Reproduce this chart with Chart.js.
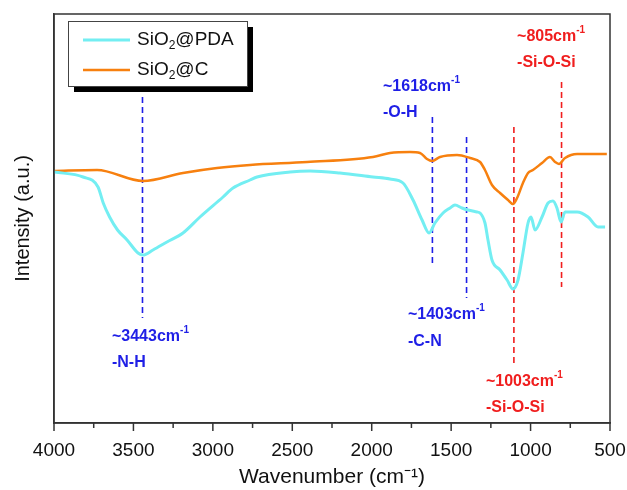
<!DOCTYPE html>
<html>
<head>
<meta charset="utf-8">
<script src="https://cdn.jsdelivr.net/npm/chart.js@4.4.0/dist/chart.umd.min.js"></script>
<style>
  body { margin: 0; background: #fff; }
  #wrap { width: 627px; height: 490px; }
</style>
</head>
<body>
<div id="wrap"><canvas id="myChart" width="627" height="490"></canvas></div>
<script>
// spectra (arbitrary intensity units)
const pdaWn = [4000, 3817, 3723, 3690, 3650, 3600, 3540, 3471, 3440, 3377, 3289, 3188, 3081, 2936, 2873, 2766, 2722, 2514, 2388, 2200, 1992, 1885, 1803, 1740, 1683, 1639, 1602, 1551, 1507, 1476, 1432, 1394, 1337, 1318, 1287, 1268, 1243, 1192, 1148, 1111, 1079, 1048, 1016, 997, 972, 928, 890, 859, 834, 808, 783, 707, 638, 575, 531];
const pdaVal = [251, 246, 236, 220, 206, 193, 183, 170, 168, 173, 181, 190, 206, 226, 235, 243, 246, 251, 252, 250, 246, 244, 240, 223, 203, 190, 200, 210, 215, 218, 215, 213, 211, 210, 200, 183, 163, 153, 143, 134, 143, 170, 200, 206, 193, 206, 220, 222, 215, 201, 211, 211, 206, 196, 196];
const cWn = [4000, 3729, 3440, 3188, 2974, 2766, 2407, 1992, 1885, 1759, 1696, 1652, 1620, 1570, 1463, 1381, 1318, 1287, 1243, 1192, 1142, 1111, 1085, 1048, 1016, 985, 928, 878, 846, 821, 783, 707, 626, 544, 520];
const cVal = [252, 253, 242, 250, 255, 258, 261, 266, 270, 271, 270, 264, 262, 266, 268, 265, 261, 253, 238, 230, 223, 219, 225, 240, 250, 253, 260, 266, 261, 259, 265, 269, 269, 269, 269];

// dashed marker lines
const peakWn = [3443, 1618, 1403, 1105, 805];
const peakTop = [326, 306, 286, 296, 341];
const peakBottom = [105, 158, 125, 60, 136];
const peakColor = ['#1f1fe6', '#1f1fe6', '#1f1fe6', '#f01e1e', '#f01e1e'];

// peak annotations
const noteWn = [3635, 1929, 1772, 1281, 1085];
const noteY1 = [86, 336, 108, 41, 386];
const noteY2 = [60, 310, 81, 15, 360];
const noteValue = ['~3443cm', '~1618cm', '~1403cm', '~1003cm', '~805cm'];
const noteGroup = ['-N-H', '-O-H', '-C-N', '-Si-O-Si', '-Si-O-Si'];

const xTicks = [4000, 3500, 3000, 2500, 2000, 1500, 1000, 500];

const FONT = '"Liberation Sans", Arial, sans-serif';

function toPoints(xs, ys) {
  return xs.map((x, i) => ({ x: x, y: ys[i] }));
}

const datasets = [
  {
    label: 'SiO2@PDA',
    data: toPoints(pdaWn, pdaVal),
    borderColor: '#73eef2',
    borderWidth: 3,
    pointRadius: 0,
    cubicInterpolationMode: 'monotone'
  },
  {
    label: 'SiO2@C',
    data: toPoints(cWn, cVal),
    borderColor: '#f7800f',
    borderWidth: 2.5,
    pointRadius: 0,
    cubicInterpolationMode: 'monotone'
  }
];

peakWn.forEach(function (wn, i) {
  datasets.push({
    label: 'peak' + i,
    data: [{ x: wn, y: peakTop[i] }, { x: wn, y: peakBottom[i] }],
    borderColor: peakColor[i],
    borderWidth: 1.6,
    borderDash: [6, 4],
    pointRadius: 0
  });
});

function drawSub(ctx, x, y, parts, size) {
  // parts: [text, 'n'|'sub'|'sup']
  parts.forEach(function (p) {
    if (p[1] === 'n') {
      ctx.font = size.normal;
      ctx.fillText(p[0], x, y);
    } else if (p[1] === 'sub') {
      ctx.font = size.small;
      ctx.fillText(p[0], x, y + size.shift);
    } else {
      ctx.font = size.small;
      ctx.fillText(p[0], x, y - size.shift);
    }
    x += ctx.measureText(p[0]).width;
  });
}

const decorPlugin = {
  id: 'decor',
  afterDraw: function (chart) {
    const ctx = chart.ctx;
    const area = chart.chartArea;
    const xs = chart.scales.x;
    const ys = chart.scales.y;
    ctx.save();

    // frame
    ctx.strokeStyle = '#333';
    ctx.lineWidth = 1.5;
    ctx.strokeRect(area.left, area.top, area.right - area.left, area.bottom - area.top);

    // x ticks (major every 500, minor every 250)
    for (let v = 500; v <= 4000; v += 250) {
      const px = xs.getPixelForValue(v);
      const len = v % 500 === 0 ? 8 : 5;
      ctx.beginPath();
      ctx.moveTo(px, area.bottom);
      ctx.lineTo(px, area.bottom + len);
      ctx.stroke();
    }

    // annotations
    ctx.textBaseline = 'middle';
    ctx.textAlign = 'left';
    noteWn.forEach(function (wn, i) {
      const px = xs.getPixelForValue(wn);
      ctx.fillStyle = i < 3 ? '#1f1fe6' : '#f01e1e';
      drawSub(ctx, px, ys.getPixelForValue(noteY1[i]),
        [[noteValue[i], 'n'], ['-1', 'sup']],
        { normal: 'bold 16px ' + FONT, small: 'bold 10px ' + FONT, shift: 7 });
      ctx.font = 'bold 16px ' + FONT;
      ctx.fillText(noteGroup[i], px, ys.getPixelForValue(noteY2[i]));
    });

    // legend box with shadow
    const lx = 68, ly = 21, lw = 179, lh = 65;
    ctx.fillStyle = '#000';
    ctx.fillRect(lx + 6, ly + 6, lw, lh);
    ctx.fillStyle = '#fff';
    ctx.fillRect(lx, ly, lw, lh);
    ctx.strokeStyle = '#444';
    ctx.lineWidth = 1;
    ctx.strokeRect(lx + 0.5, ly + 0.5, lw, lh);

    const rows = [
      { color: '#73eef2', width: 3, y: ly + 19, parts: [['SiO', 'n'], ['2', 'sub'], ['@PDA', 'n']] },
      { color: '#f7800f', width: 2.5, y: ly + 49, parts: [['SiO', 'n'], ['2', 'sub'], ['@C', 'n']] }
    ];
    rows.forEach(function (r) {
      ctx.strokeStyle = r.color;
      ctx.lineWidth = r.width;
      ctx.beginPath();
      ctx.moveTo(lx + 15, r.y);
      ctx.lineTo(lx + 62, r.y);
      ctx.stroke();
      ctx.fillStyle = '#111';
      drawSub(ctx, lx + 69, r.y, r.parts,
        { normal: '19px ' + FONT, small: '12px ' + FONT, shift: 6 });
    });

    ctx.restore();
  }
};

const ctx = document.getElementById('myChart').getContext('2d');
const myChart = new Chart(ctx, {
  type: 'line',
  data: { datasets: datasets },
  options: {
    responsive: false,
    animation: false,
    layout: { padding: { left: 0, top: 14, right: 17, bottom: 0 } },
    plugins: {
      legend: { display: false },
      tooltip: { enabled: false }
    },
    scales: {
      x: {
        type: 'linear',
        reverse: true,
        min: 500,
        max: 4000,
        afterBuildTicks: function (scale) {
          scale.ticks = xTicks.map(v => ({ value: v }));
        },
        afterFit: function (scale) {
          scale.height = 67;
          scale.paddingLeft = 0;
          scale.paddingRight = 0;
        },
        grid: { display: false },
        border: { display: true, color: '#333', width: 1.5 },
        ticks: {
          color: '#111',
          padding: 8,
          maxRotation: 0,
          callback: function (value) { return String(value); },
          font: { family: FONT, size: 19 }
        },
        title: {
          display: true,
          text: 'Wavenumber (cm\u207B\u00B9)',
          color: '#111',
          padding: { top: 0, bottom: 0 },
          font: { family: FONT, size: 21 }
        }
      },
      y: {
        min: 0,
        max: 409,
        afterFit: function (scale) {
          scale.width = 54;
          scale.paddingTop = 0;
          scale.paddingBottom = 0;
        },
        grid: { display: false },
        border: { display: true, color: '#333', width: 1.5 },
        ticks: { display: false },
        title: {
          display: true,
          text: 'Intensity (a.u.)',
          color: '#111',
          padding: { top: 11, bottom: 0 },
          font: { family: FONT, size: 20 }
        }
      }
    }
  },
  plugins: [decorPlugin]
});
</script>
</body>
</html>
